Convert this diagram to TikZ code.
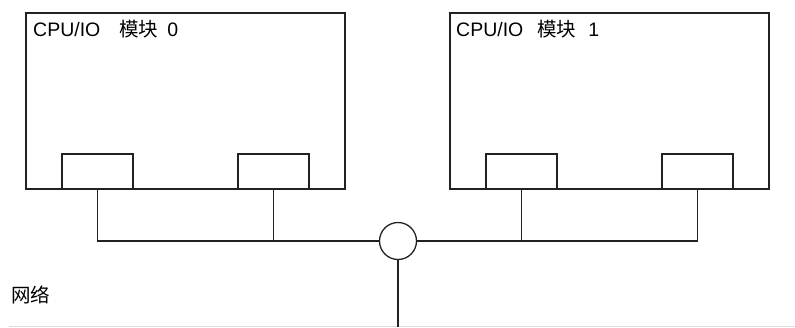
\documentclass[tikz,border=0pt]{standalone}
\usepackage{fontspec}
\setmainfont{Liberation Sans}
\newfontfamily\cjk{Noto Sans CJK SC}
\usepackage{xcolor}
\usepackage{tikz}
\usetikzlibrary{positioning,calc}
\definecolor{trazo}{HTML}{222222}
\definecolor{grisclaro}{HTML}{DCDCDC}
\tikzset{
  modulo/.style={draw=trazo,line width=1.3pt,minimum width=319pt,minimum height=176pt,inner sep=0pt,outer sep=0pt,anchor=north west},
  puerto/.style={draw=trazo,line width=1.3pt,fill=white,minimum width=71pt,minimum height=35pt,inner sep=0pt,outer sep=0pt,anchor=south west},
  nodored/.style={circle,draw=trazo,line width=1.3pt,fill=white,minimum size=37pt,inner sep=0pt,outer sep=0pt},
  cable/.style={draw=trazo,line width=1.3pt},
  base/.style={draw=grisclaro,line width=1pt},
  etiqueta/.style={font=\fontsize{19.5}{23}\selectfont,anchor=base west,inner sep=0pt},
}

\begin{document}
\begin{tikzpicture}[x=1pt,y=-1pt]
  \useasboundingbox (0,0) rectangle (795,327);
  % modulos
  \node[modulo] (mod0) at (26,13) {};
  \node[modulo] (mod1) at (450,13) {};
  \node[etiqueta] (tit0) at (33,36) {CPU/IO\hspace{19pt}{\cjk 模块}\hspace{9pt}0};
  \node[etiqueta] (tit1) at (456,36) {CPU/IO\hspace{14pt}{\cjk 模块}\hspace{12pt}1};
  % puertos
  \node[puerto] (p00) at (62,189) {};
  \node[puerto] (p01) at (238,189) {};
  \node[puerto] (p10) at (486,189) {};
  \node[puerto] (p11) at (662,189) {};
  % red
  \node[nodored] (hub) at (398,241) {};
  \coordinate (suelo) at (398,327);
  \coordinate (bizq) at (9,326);
  \coordinate (bder) at (795,326);
  \draw[base] (bizq) -- (bder);
  \node[etiqueta] (red) at (11,302.5) {\cjk 网络};
  \draw[cable] (p00.south) |- (hub.west);
  \draw[cable] (p01.south) -- (p01.south |- hub.west);
  \draw[cable] (p11.south) |- (hub.east);
  \draw[cable] (p10.south) -- (p10.south |- hub.east);
  \draw[cable] (hub.south) -- (suelo);
\end{tikzpicture}
\end{document}
